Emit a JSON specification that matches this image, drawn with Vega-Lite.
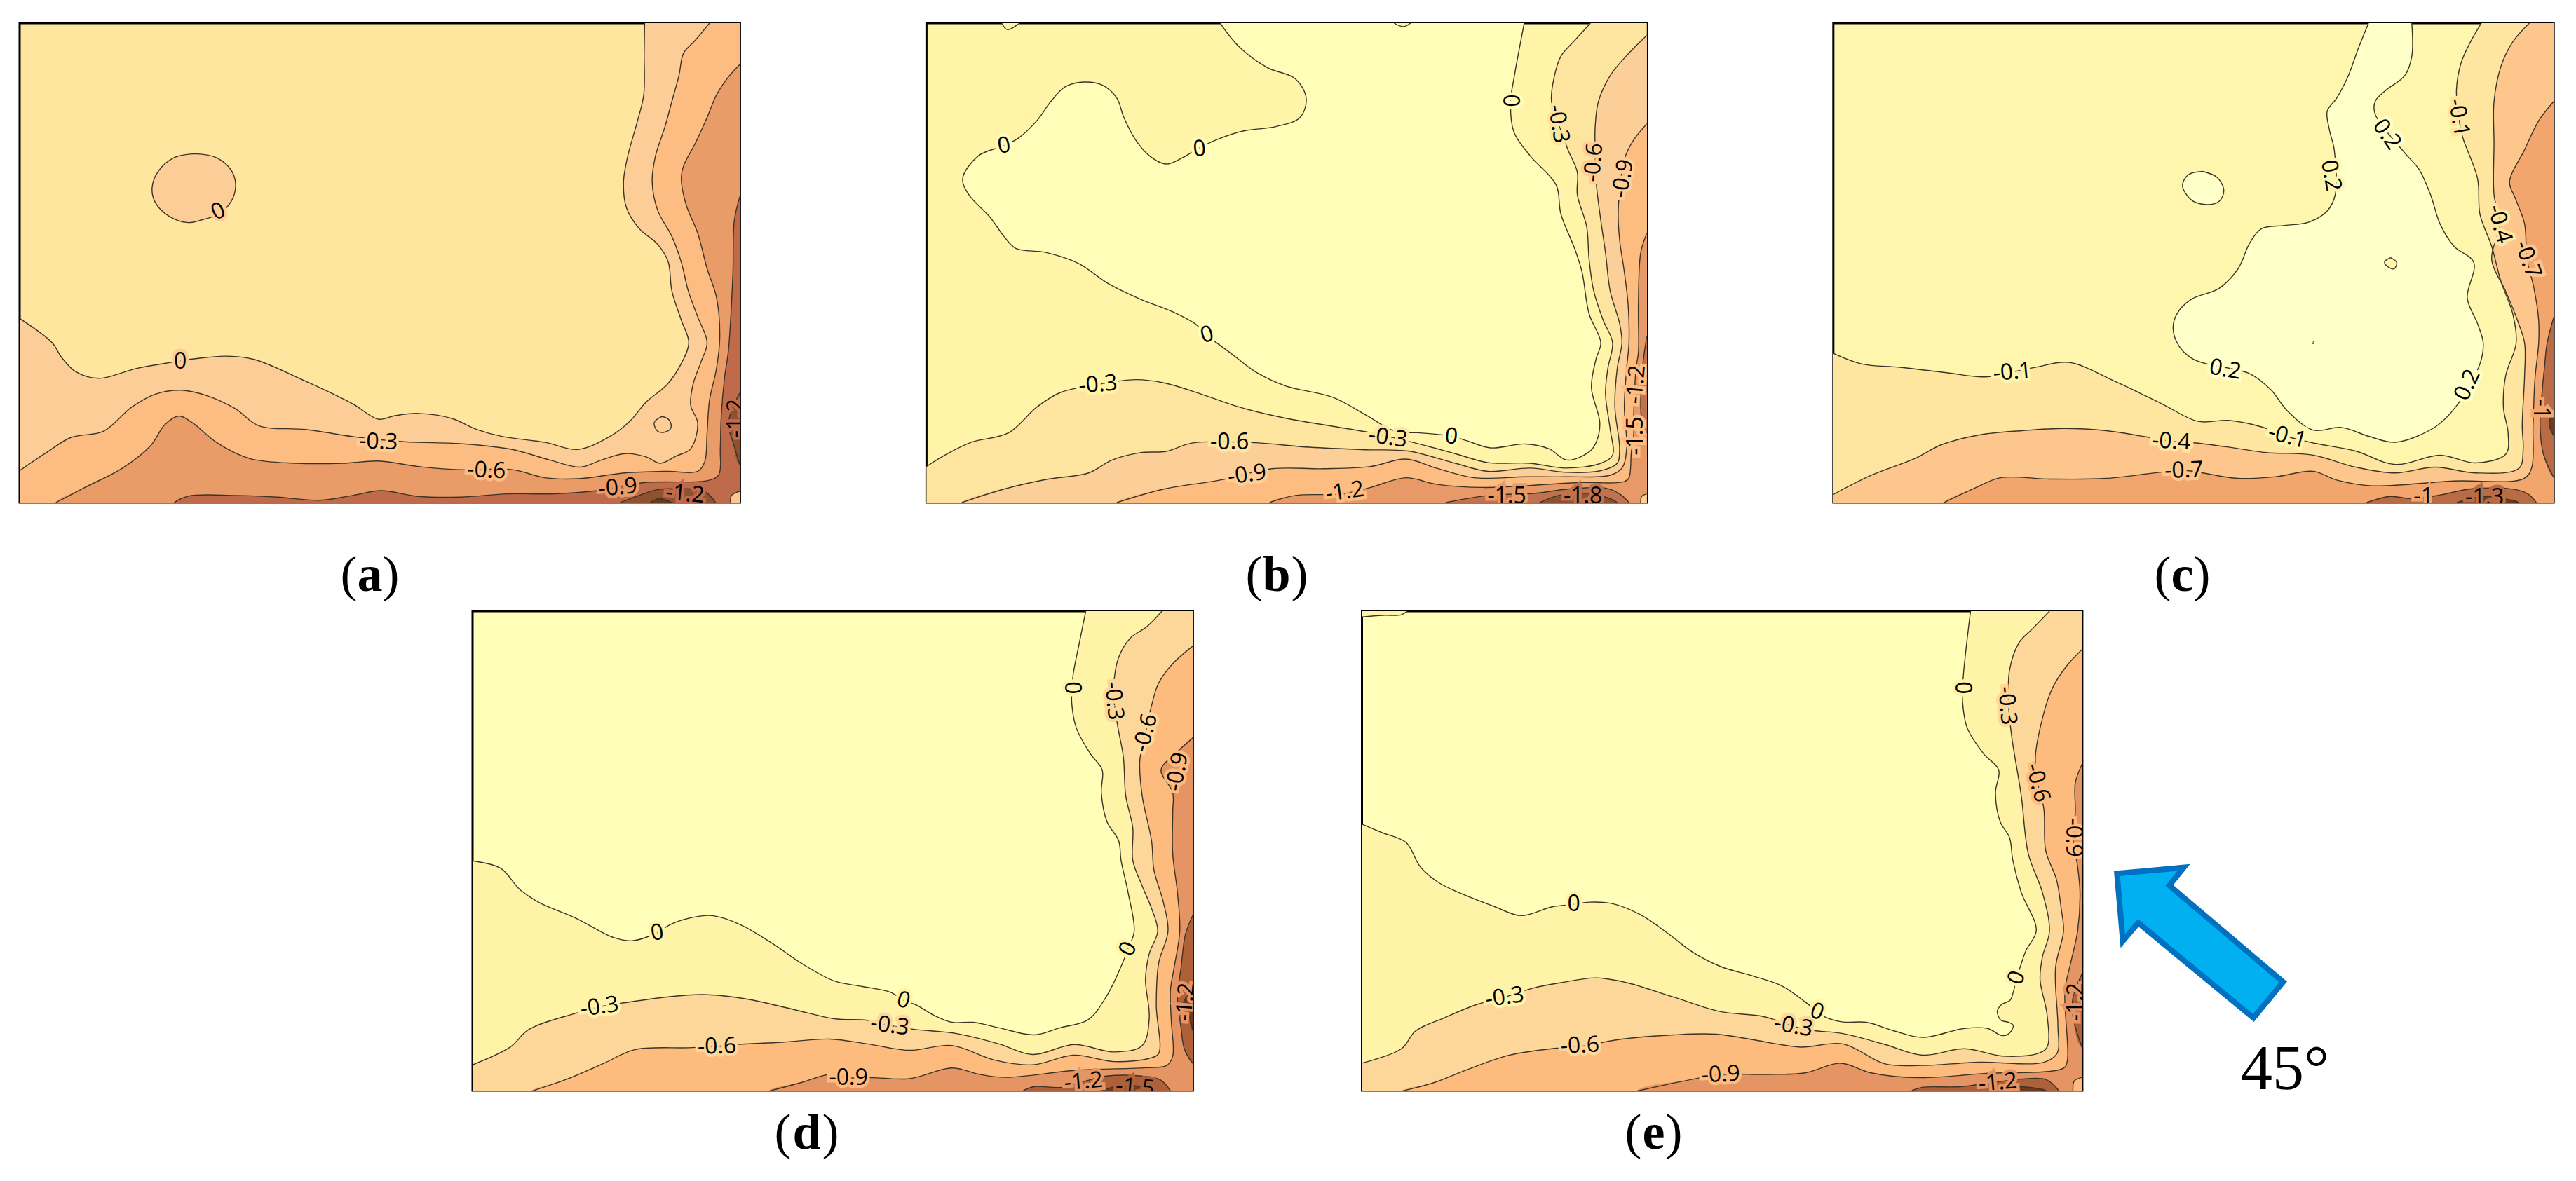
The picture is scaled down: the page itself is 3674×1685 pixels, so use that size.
{"$schema":"https://vega.github.io/schema/vega-lite/v6.json","background":"white","padding":{"left":26,"top":31,"right":0,"bottom":0},
"config":{"view":{"stroke":null},"concat":{"spacing":0}},
"resolve":{"scale":{"fill":"independent","stroke":"independent"}},
"datasets":{
"a":[
{"c":"a0","x":1342,"y":27},{"c":"a0","x":1341,"y":120},{"c":"a0","x":1340,"y":250},{"c":"a0","x":1325,"y":340},{"c":"a0","x":1306,"y":440},{"c":"a0","x":1297,"y":520},{"c":"a0","x":1303,"y":600},{"c":"a0","x":1330,"y":665},{"c":"a0","x":1370,"y":715},{"c":"a0","x":1392,"y":768},{"c":"a0","x":1400,"y":860},{"c":"a0","x":1420,"y":950},{"c":"a0","x":1436,"y":1020},{"c":"a0","x":1420,"y":1085},{"c":"a0","x":1390,"y":1150},{"c":"a0","x":1345,"y":1205},{"c":"a0","x":1310,"y":1265},{"c":"a0","x":1270,"y":1310},{"c":"a0","x":1200,"y":1352},{"c":"a0","x":1130,"y":1330},{"c":"a0","x":1040,"y":1312},{"c":"a0","x":985,"y":1290},{"c":"a0","x":930,"y":1255},{"c":"a0","x":860,"y":1240},{"c":"a0","x":810,"y":1247},{"c":"a0","x":775,"y":1258},{"c":"a0","x":720,"y":1210},{"c":"a0","x":620,"y":1140},{"c":"a0","x":510,"y":1072},{"c":"a0","x":450,"y":1062},{"c":"a0","x":385,"y":1070},{"c":"a0","x":340,"y":1080},{"c":"a0","x":260,"y":1100},{"c":"a0","x":180,"y":1131},{"c":"a0","x":130,"y":1110},{"c":"a0","x":100,"y":1065},{"c":"a0","x":80,"y":1020},{"c":"a0","x":11,"y":945},{"c":"a0","x":-20,"y":945,"k":1},{"c":"a0","x":-20,"y":1550,"k":1},{"c":"a0","x":1580,"y":1550,"k":1},{"c":"a0","x":1580,"y":-5,"k":1},{"c":"a0","x":1342,"y":-5,"k":1},
{"c":"a1","x":385,"y":433},{"c":"a1","x":430,"y":445},{"c":"a1","x":462,"y":485},{"c":"a1","x":471,"y":530},{"c":"a1","x":462,"y":580},{"c":"a1","x":435,"y":620},{"c":"a1","x":400,"y":638},{"c":"a1","x":370,"y":647},{"c":"a1","x":330,"y":628},{"c":"a1","x":300,"y":585},{"c":"a1","x":293,"y":540},{"c":"a1","x":305,"y":490},{"c":"a1","x":340,"y":445},{"c":"a1","x":385,"y":433},
{"c":"a2","x":1480,"y":27},{"c":"a2","x":1450,"y":80},{"c":"a2","x":1425,"y":120},{"c":"a2","x":1415,"y":190},{"c":"a2","x":1400,"y":270},{"c":"a2","x":1385,"y":350},{"c":"a2","x":1365,"y":440},{"c":"a2","x":1358,"y":520},{"c":"a2","x":1370,"y":610},{"c":"a2","x":1400,"y":690},{"c":"a2","x":1420,"y":770},{"c":"a2","x":1435,"y":860},{"c":"a2","x":1455,"y":940},{"c":"a2","x":1475,"y":1020},{"c":"a2","x":1462,"y":1080},{"c":"a2","x":1445,"y":1150},{"c":"a2","x":1440,"y":1215},{"c":"a2","x":1455,"y":1270},{"c":"a2","x":1440,"y":1350},{"c":"a2","x":1410,"y":1372},{"c":"a2","x":1375,"y":1395},{"c":"a2","x":1345,"y":1375},{"c":"a2","x":1300,"y":1365},{"c":"a2","x":1250,"y":1385},{"c":"a2","x":1205,"y":1407},{"c":"a2","x":1140,"y":1385},{"c":"a2","x":1060,"y":1352},{"c":"a2","x":960,"y":1335},{"c":"a2","x":830,"y":1328},{"c":"a2","x":735,"y":1315},{"c":"a2","x":620,"y":1290},{"c":"a2","x":520,"y":1278},{"c":"a2","x":470,"y":1225},{"c":"a2","x":410,"y":1185},{"c":"a2","x":355,"y":1168},{"c":"a2","x":300,"y":1180},{"c":"a2","x":250,"y":1220},{"c":"a2","x":190,"y":1295},{"c":"a2","x":120,"y":1315},{"c":"a2","x":70,"y":1360},{"c":"a2","x":11,"y":1418},{"c":"a2","x":-20,"y":1418,"k":1},{"c":"a2","x":-20,"y":1550,"k":1},{"c":"a2","x":1580,"y":1550,"k":1},{"c":"a2","x":1580,"y":-5,"k":1},{"c":"a2","x":1480,"y":-5,"k":1},
{"c":"a3","x":1365,"y":1262},{"c":"a3","x":1380,"y":1250},{"c":"a3","x":1395,"y":1262},{"c":"a3","x":1398,"y":1285},{"c":"a3","x":1385,"y":1298},{"c":"a3","x":1370,"y":1296},{"c":"a3","x":1362,"y":1272},{"c":"a3","x":1365,"y":1262},
{"c":"a4","x":1545,"y":155},{"c":"a4","x":1520,"y":195},{"c":"a4","x":1495,"y":250},{"c":"a4","x":1475,"y":320},{"c":"a4","x":1450,"y":400},{"c":"a4","x":1425,"y":470},{"c":"a4","x":1420,"y":510},{"c":"a4","x":1430,"y":590},{"c":"a4","x":1455,"y":680},{"c":"a4","x":1475,"y":790},{"c":"a4","x":1495,"y":880},{"c":"a4","x":1502,"y":1000},{"c":"a4","x":1495,"y":1100},{"c":"a4","x":1480,"y":1200},{"c":"a4","x":1475,"y":1300},{"c":"a4","x":1470,"y":1390},{"c":"a4","x":1455,"y":1420},{"c":"a4","x":1390,"y":1420},{"c":"a4","x":1300,"y":1425},{"c":"a4","x":1200,"y":1443},{"c":"a4","x":1130,"y":1440},{"c":"a4","x":1060,"y":1415},{"c":"a4","x":950,"y":1415},{"c":"a4","x":860,"y":1405},{"c":"a4","x":775,"y":1388},{"c":"a4","x":700,"y":1395},{"c":"a4","x":600,"y":1395},{"c":"a4","x":500,"y":1380},{"c":"a4","x":430,"y":1330},{"c":"a4","x":380,"y":1270},{"c":"a4","x":350,"y":1248},{"c":"a4","x":320,"y":1275},{"c":"a4","x":290,"y":1340},{"c":"a4","x":230,"y":1410},{"c":"a4","x":150,"y":1470},{"c":"a4","x":88,"y":1517},{"c":"a4","x":88,"y":1550,"k":1},{"c":"a4","x":1580,"y":1550,"k":1},{"c":"a4","x":1580,"y":155,"k":1},
{"c":"a5","x":1545,"y":565},{"c":"a5","x":1533,"y":640},{"c":"a5","x":1530,"y":800},{"c":"a5","x":1525,"y":950},{"c":"a5","x":1520,"y":1050},{"c":"a5","x":1512,"y":1130},{"c":"a5","x":1505,"y":1250},{"c":"a5","x":1503,"y":1350},{"c":"a5","x":1500,"y":1430},{"c":"a5","x":1478,"y":1448},{"c":"a5","x":1340,"y":1455},{"c":"a5","x":1240,"y":1480},{"c":"a5","x":1150,"y":1490},{"c":"a5","x":1050,"y":1490},{"c":"a5","x":950,"y":1500},{"c":"a5","x":860,"y":1498},{"c":"a5","x":780,"y":1480},{"c":"a5","x":720,"y":1495},{"c":"a5","x":650,"y":1510},{"c":"a5","x":560,"y":1500},{"c":"a5","x":470,"y":1495},{"c":"a5","x":370,"y":1497},{"c":"a5","x":340,"y":1517},{"c":"a5","x":340,"y":1550,"k":1},{"c":"a5","x":1580,"y":1550,"k":1},{"c":"a5","x":1580,"y":565,"k":1},
{"c":"a6","x":1290,"y":1517},{"c":"a6","x":1330,"y":1495},{"c":"a6","x":1369,"y":1477},{"c":"a6","x":1408,"y":1474},{"c":"a6","x":1468,"y":1481},{"c":"a6","x":1493,"y":1517},{"c":"a6","x":1493,"y":1550,"k":1},{"c":"a6","x":1290,"y":1550,"k":1},
{"c":"a7","x":1354,"y":1517},{"c":"a7","x":1373,"y":1505},{"c":"a7","x":1399,"y":1517},{"c":"a7","x":1399,"y":1550,"k":1},{"c":"a7","x":1354,"y":1550,"k":1},
{"c":"a8","x":1545,"y":1176},{"c":"a8","x":1528,"y":1226},{"c":"a8","x":1520,"y":1278},{"c":"a8","x":1530,"y":1329},{"c":"a8","x":1545,"y":1401},{"c":"a8","x":1580,"y":1401,"k":1},{"c":"a8","x":1580,"y":1176,"k":1},
{"c":"a9","x":1525,"y":1517},{"c":"a9","x":1527,"y":1495},{"c":"a9","x":1545,"y":1482},{"c":"a9","x":1580,"y":1482,"k":1},{"c":"a9","x":1580,"y":1550,"k":1},{"c":"a9","x":1525,"y":1550,"k":1}
],
"la":[{"t":"0","x":434,"y":612,"r":-25,"c":"a0"},{"t":"0","x":353,"y":1080,"r":0,"c":"a0"},{"t":"-0.3","x":775,"y":1328,"r":2,"c":"a0"},{"t":"-0.6","x":1005,"y":1417,"r":3,"c":"a2"},{"t":"-0.9","x":1285,"y":1470,"r":-5,"c":"a4"},{"t":"-1.2","x":1428,"y":1490,"r":5,"c":"a5"},{"t":"-1.2","x":1537,"y":1255,"r":-90,"c":"a5"}],
"b":[
{"c":"b0","x":640,"y":27},{"c":"b0","x":680,"y":100},{"c":"b0","x":740,"y":165},{"c":"b0","x":800,"y":200},{"c":"b0","x":823,"y":260},{"c":"b0","x":810,"y":320},{"c":"b0","x":760,"y":348},{"c":"b0","x":690,"y":362},{"c":"b0","x":640,"y":385},{"c":"b0","x":595,"y":415},{"c":"b0","x":560,"y":445},{"c":"b0","x":525,"y":465},{"c":"b0","x":490,"y":440},{"c":"b0","x":460,"y":390},{"c":"b0","x":435,"y":320},{"c":"b0","x":420,"y":260},{"c":"b0","x":390,"y":220},{"c":"b0","x":350,"y":210},{"c":"b0","x":310,"y":225},{"c":"b0","x":280,"y":270},{"c":"b0","x":250,"y":330},{"c":"b0","x":210,"y":385},{"c":"b0","x":175,"y":410},{"c":"b0","x":125,"y":440},{"c":"b0","x":92,"y":510},{"c":"b0","x":105,"y":560},{"c":"b0","x":150,"y":630},{"c":"b0","x":180,"y":690},{"c":"b0","x":205,"y":727},{"c":"b0","x":270,"y":740},{"c":"b0","x":340,"y":775},{"c":"b0","x":400,"y":835},{"c":"b0","x":470,"y":885},{"c":"b0","x":540,"y":925},{"c":"b0","x":590,"y":965},{"c":"b0","x":610,"y":995},{"c":"b0","x":660,"y":1050},{"c":"b0","x":720,"y":1115},{"c":"b0","x":780,"y":1155},{"c":"b0","x":880,"y":1190},{"c":"b0","x":950,"y":1245},{"c":"b0","x":1015,"y":1297},{"c":"b0","x":1060,"y":1300},{"c":"b0","x":1130,"y":1310},{"c":"b0","x":1165,"y":1325},{"c":"b0","x":1215,"y":1347},{"c":"b0","x":1290,"y":1335},{"c":"b0","x":1340,"y":1350},{"c":"b0","x":1378,"y":1385},{"c":"b0","x":1425,"y":1360},{"c":"b0","x":1440,"y":1330},{"c":"b0","x":1448,"y":1270},{"c":"b0","x":1430,"y":1160},{"c":"b0","x":1440,"y":1070},{"c":"b0","x":1450,"y":1020},{"c":"b0","x":1425,"y":930},{"c":"b0","x":1410,"y":800},{"c":"b0","x":1395,"y":730},{"c":"b0","x":1365,"y":620},{"c":"b0","x":1355,"y":530},{"c":"b0","x":1300,"y":440},{"c":"b0","x":1265,"y":365},{"c":"b0","x":1258,"y":270},{"c":"b0","x":1265,"y":200},{"c":"b0","x":1287,"y":27},{"c":"b0","x":1287,"y":-5,"k":1},{"c":"b0","x":640,"y":-5,"k":1},
{"c":"b1","x":175,"y":27},{"c":"b1","x":187,"y":47},{"c":"b1","x":210,"y":30},{"c":"b1","x":210,"y":-5,"k":1},{"c":"b1","x":175,"y":-5,"k":1},
{"c":"b2","x":1010,"y":27},{"c":"b2","x":1030,"y":38},{"c":"b2","x":1045,"y":27},{"c":"b2","x":1045,"y":-5,"k":1},{"c":"b2","x":1010,"y":-5,"k":1},
{"c":"b3","x":1428,"y":27},{"c":"b3","x":1395,"y":80},{"c":"b3","x":1365,"y":130},{"c":"b3","x":1350,"y":200},{"c":"b3","x":1345,"y":270},{"c":"b3","x":1360,"y":340},{"c":"b3","x":1380,"y":420},{"c":"b3","x":1400,"y":490},{"c":"b3","x":1400,"y":560},{"c":"b3","x":1420,"y":660},{"c":"b3","x":1425,"y":760},{"c":"b3","x":1435,"y":860},{"c":"b3","x":1455,"y":950},{"c":"b3","x":1475,"y":1020},{"c":"b3","x":1465,"y":1100},{"c":"b3","x":1460,"y":1180},{"c":"b3","x":1470,"y":1290},{"c":"b3","x":1475,"y":1370},{"c":"b3","x":1450,"y":1395},{"c":"b3","x":1375,"y":1410},{"c":"b3","x":1300,"y":1395},{"c":"b3","x":1210,"y":1393},{"c":"b3","x":1140,"y":1365},{"c":"b3","x":1050,"y":1330},{"c":"b3","x":960,"y":1300},{"c":"b3","x":880,"y":1280},{"c":"b3","x":780,"y":1255},{"c":"b3","x":680,"y":1220},{"c":"b3","x":600,"y":1180},{"c":"b3","x":520,"y":1145},{"c":"b3","x":460,"y":1135},{"c":"b3","x":380,"y":1150},{"c":"b3","x":300,"y":1175},{"c":"b3","x":250,"y":1220},{"c":"b3","x":190,"y":1300},{"c":"b3","x":110,"y":1330},{"c":"b3","x":60,"y":1365},{"c":"b3","x":15,"y":1405},{"c":"b3","x":-20,"y":1405,"k":1},{"c":"b3","x":-20,"y":1550,"k":1},{"c":"b3","x":1580,"y":1550,"k":1},{"c":"b3","x":1580,"y":-5,"k":1},{"c":"b3","x":1428,"y":-5,"k":1},
{"c":"b4","x":1548,"y":65},{"c":"b4","x":1510,"y":120},{"c":"b4","x":1470,"y":190},{"c":"b4","x":1445,"y":270},{"c":"b4","x":1438,"y":350},{"c":"b4","x":1438,"y":420},{"c":"b4","x":1440,"y":520},{"c":"b4","x":1450,"y":640},{"c":"b4","x":1460,"y":740},{"c":"b4","x":1470,"y":860},{"c":"b4","x":1490,"y":960},{"c":"b4","x":1495,"y":1020},{"c":"b4","x":1485,"y":1100},{"c":"b4","x":1480,"y":1220},{"c":"b4","x":1490,"y":1350},{"c":"b4","x":1485,"y":1395},{"c":"b4","x":1450,"y":1418},{"c":"b4","x":1375,"y":1423},{"c":"b4","x":1300,"y":1410},{"c":"b4","x":1210,"y":1420},{"c":"b4","x":1140,"y":1395},{"c":"b4","x":1040,"y":1357},{"c":"b4","x":950,"y":1353},{"c":"b4","x":830,"y":1345},{"c":"b4","x":700,"y":1330},{"c":"b4","x":580,"y":1332},{"c":"b4","x":525,"y":1358},{"c":"b4","x":470,"y":1362},{"c":"b4","x":410,"y":1385},{"c":"b4","x":360,"y":1425},{"c":"b4","x":270,"y":1445},{"c":"b4","x":180,"y":1475},{"c":"b4","x":90,"y":1517},{"c":"b4","x":90,"y":1550,"k":1},{"c":"b4","x":1580,"y":1550,"k":1},{"c":"b4","x":1580,"y":65,"k":1},
{"c":"b5","x":1548,"y":340},{"c":"b5","x":1520,"y":390},{"c":"b5","x":1500,"y":450},{"c":"b5","x":1490,"y":550},{"c":"b5","x":1487,"y":620},{"c":"b5","x":1490,"y":700},{"c":"b5","x":1500,"y":800},{"c":"b5","x":1508,"y":900},{"c":"b5","x":1510,"y":1020},{"c":"b5","x":1505,"y":1100},{"c":"b5","x":1500,"y":1220},{"c":"b5","x":1505,"y":1350},{"c":"b5","x":1495,"y":1410},{"c":"b5","x":1470,"y":1432},{"c":"b5","x":1375,"y":1437},{"c":"b5","x":1290,"y":1437},{"c":"b5","x":1180,"y":1440},{"c":"b5","x":1100,"y":1410},{"c":"b5","x":1035,"y":1382},{"c":"b5","x":960,"y":1405},{"c":"b5","x":860,"y":1412},{"c":"b5","x":750,"y":1412},{"c":"b5","x":640,"y":1447},{"c":"b5","x":520,"y":1475},{"c":"b5","x":420,"y":1517},{"c":"b5","x":420,"y":1550,"k":1},{"c":"b5","x":1580,"y":1550,"k":1},{"c":"b5","x":1580,"y":340,"k":1},
{"c":"b6","x":1548,"y":680},{"c":"b6","x":1535,"y":740},{"c":"b6","x":1530,"y":900},{"c":"b6","x":1530,"y":1050},{"c":"b6","x":1525,"y":1100},{"c":"b6","x":1520,"y":1250},{"c":"b6","x":1520,"y":1310},{"c":"b6","x":1515,"y":1360},{"c":"b6","x":1510,"y":1440},{"c":"b6","x":1500,"y":1452},{"c":"b6","x":1400,"y":1455},{"c":"b6","x":1200,"y":1470},{"c":"b6","x":1100,"y":1460},{"c":"b6","x":1035,"y":1440},{"c":"b6","x":960,"y":1470},{"c":"b6","x":900,"y":1490},{"c":"b6","x":800,"y":1495},{"c":"b6","x":745,"y":1517},{"c":"b6","x":745,"y":1550,"k":1},{"c":"b6","x":1580,"y":1550,"k":1},{"c":"b6","x":1580,"y":680,"k":1},
{"c":"b7","x":1120,"y":1517},{"c":"b7","x":1210,"y":1495},{"c":"b7","x":1310,"y":1488},{"c":"b7","x":1380,"y":1475},{"c":"b7","x":1460,"y":1472},{"c":"b7","x":1490,"y":1490},{"c":"b7","x":1510,"y":1517},{"c":"b7","x":1510,"y":1550,"k":1},{"c":"b7","x":1120,"y":1550,"k":1},
{"c":"b8","x":1548,"y":1000},{"c":"b8","x":1540,"y":1080},{"c":"b8","x":1535,"y":1180},{"c":"b8","x":1538,"y":1270},{"c":"b8","x":1548,"y":1300},{"c":"b8","x":1580,"y":1300,"k":1},{"c":"b8","x":1580,"y":1000,"k":1},
{"c":"b9","x":1320,"y":1517},{"c":"b9","x":1360,"y":1495},{"c":"b9","x":1420,"y":1488},{"c":"b9","x":1470,"y":1505},{"c":"b9","x":1485,"y":1517},{"c":"b9","x":1485,"y":1550,"k":1},{"c":"b9","x":1320,"y":1550,"k":1},
{"c":"bx","x":1535,"y":1517},{"c":"bx","x":1537,"y":1498},{"c":"bx","x":1548,"y":1490},{"c":"bx","x":1580,"y":1490,"k":1},{"c":"bx","x":1580,"y":1550,"k":1},{"c":"bx","x":1535,"y":1550,"k":1}
],
"lb":[{"t":"0","x":180,"y":408,"r":-10,"c":"b0"},{"t":"0","x":596,"y":418,"r":-5,"c":"b0"},{"t":"0","x":612,"y":995,"r":-15,"c":"b0"},{"t":"0","x":1257,"y":268,"r":90,"c":"b0"},{"t":"-0.3","x":1360,"y":340,"r":80,"c":"b3"},{"t":"-0.6","x":1435,"y":460,"r":-85,"c":"b4"},{"t":"-0.9","x":1497,"y":510,"r":-80,"c":"b4"},{"t":"-0.3","x":380,"y":1150,"r":-5,"c":"b1"},{"t":"-0.3","x":997,"y":1315,"r":8,"c":"b3"},{"t":"0","x":1132,"y":1312,"r":5,"c":"b0"},{"t":"-0.6","x":660,"y":1330,"r":0,"c":"b3"},{"t":"-0.9","x":697,"y":1430,"r":-8,"c":"b4"},{"t":"-1.2","x":905,"y":1483,"r":-8,"c":"b5"},{"t":"-1.5","x":1250,"y":1497,"r":0,"c":"b6"},{"t":"-1.8","x":1412,"y":1497,"r":0,"c":"b7"},{"t":"-1.2","x":1525,"y":1150,"r":-85,"c":"b5"},{"t":"-1.5","x":1525,"y":1310,"r":-90,"c":"b5"}],
"cc":[
{"c":"c0","x":1158,"y":27},{"c":"c0","x":1135,"y":110},{"c":"c0","x":1115,"y":190},{"c":"c0","x":1090,"y":260},{"c":"c0","x":1070,"y":300},{"c":"c0","x":1075,"y":360},{"c":"c0","x":1085,"y":420},{"c":"c0","x":1087,"y":560},{"c":"c0","x":1070,"y":610},{"c":"c0","x":1030,"y":645},{"c":"c0","x":980,"y":655},{"c":"c0","x":930,"y":665},{"c":"c0","x":905,"y":710},{"c":"c0","x":880,"y":790},{"c":"c0","x":840,"y":850},{"c":"c0","x":780,"y":885},{"c":"c0","x":750,"y":930},{"c":"c0","x":742,"y":975},{"c":"c0","x":755,"y":1030},{"c":"c0","x":785,"y":1070},{"c":"c0","x":815,"y":1085},{"c":"c0","x":905,"y":1115},{"c":"c0","x":950,"y":1165},{"c":"c0","x":985,"y":1230},{"c":"c0","x":1040,"y":1290},{"c":"c0","x":1100,"y":1282},{"c":"c0","x":1160,"y":1310},{"c":"c0","x":1215,"y":1328},{"c":"c0","x":1300,"y":1280},{"c":"c0","x":1345,"y":1215},{"c":"c0","x":1395,"y":1085},{"c":"c0","x":1402,"y":1020},{"c":"c0","x":1390,"y":960},{"c":"c0","x":1368,"y":880},{"c":"c0","x":1382,"y":770},{"c":"c0","x":1340,"y":720},{"c":"c0","x":1310,"y":650},{"c":"c0","x":1290,"y":560},{"c":"c0","x":1265,"y":480},{"c":"c0","x":1235,"y":430},{"c":"c0","x":1172,"y":310},{"c":"c0","x":1172,"y":270},{"c":"c0","x":1195,"y":235},{"c":"c0","x":1235,"y":190},{"c":"c0","x":1250,"y":130},{"c":"c0","x":1250,"y":27},{"c":"c0","x":1250,"y":-5,"k":1},{"c":"c0","x":1158,"y":-5,"k":1},
{"c":"c1","x":805,"y":487},{"c":"c1","x":835,"y":505},{"c":"c1","x":850,"y":545},{"c":"c1","x":840,"y":580},{"c":"c1","x":810,"y":590},{"c":"c1","x":780,"y":575},{"c":"c1","x":762,"y":530},{"c":"c1","x":775,"y":497},{"c":"c1","x":805,"y":487},
{"c":"c2","x":1205,"y":755},{"c":"c2","x":1218,"y":770},{"c":"c2","x":1212,"y":790},{"c":"c2","x":1198,"y":782},{"c":"c2","x":1192,"y":768},{"c":"c2","x":1205,"y":755},
{"c":"c3","x":1040,"y":1014},{"c":"c3","x":1042,"y":1018},{"c":"c3","x":1040,"y":1022},{"c":"c3","x":1038,"y":1018},
{"c":"c4","x":1398,"y":27},{"c":"c4","x":1375,"y":85},{"c":"c4","x":1355,"y":150},{"c":"c4","x":1345,"y":235},{"c":"c4","x":1350,"y":320},{"c":"c4","x":1358,"y":380},{"c":"c4","x":1390,"y":510},{"c":"c4","x":1395,"y":620},{"c":"c4","x":1420,"y":720},{"c":"c4","x":1440,"y":830},{"c":"c4","x":1465,"y":930},{"c":"c4","x":1472,"y":1020},{"c":"c4","x":1450,"y":1120},{"c":"c4","x":1445,"y":1220},{"c":"c4","x":1455,"y":1300},{"c":"c4","x":1450,"y":1365},{"c":"c4","x":1385,"y":1392},{"c":"c4","x":1310,"y":1368},{"c":"c4","x":1215,"y":1397},{"c":"c4","x":1130,"y":1355},{"c":"c4","x":1040,"y":1330},{"c":"c4","x":985,"y":1310},{"c":"c4","x":930,"y":1280},{"c":"c4","x":860,"y":1260},{"c":"c4","x":795,"y":1263},{"c":"c4","x":720,"y":1210},{"c":"c4","x":620,"y":1140},{"c":"c4","x":520,"y":1080},{"c":"c4","x":450,"y":1095},{"c":"c4","x":400,"y":1110},{"c":"c4","x":340,"y":1125},{"c":"c4","x":260,"y":1112},{"c":"c4","x":160,"y":1095},{"c":"c4","x":80,"y":1085},{"c":"c4","x":19,"y":1052},{"c":"c4","x":-20,"y":1052,"k":1},{"c":"c4","x":-20,"y":1550,"k":1},{"c":"c4","x":1590,"y":1550,"k":1},{"c":"c4","x":1590,"y":-5,"k":1},{"c":"c4","x":1398,"y":-5,"k":1},
{"c":"c5","x":1500,"y":27},{"c":"c5","x":1465,"y":85},{"c":"c5","x":1440,"y":160},{"c":"c5","x":1425,"y":270},{"c":"c5","x":1425,"y":400},{"c":"c5","x":1425,"y":560},{"c":"c5","x":1437,"y":650},{"c":"c5","x":1420,"y":760},{"c":"c5","x":1450,"y":860},{"c":"c5","x":1475,"y":950},{"c":"c5","x":1490,"y":1020},{"c":"c5","x":1490,"y":1120},{"c":"c5","x":1485,"y":1278},{"c":"c5","x":1487,"y":1350},{"c":"c5","x":1478,"y":1409},{"c":"c5","x":1384,"y":1423},{"c":"c5","x":1300,"y":1405},{"c":"c5","x":1215,"y":1423},{"c":"c5","x":1130,"y":1405},{"c":"c5","x":1040,"y":1368},{"c":"c5","x":940,"y":1360},{"c":"c5","x":870,"y":1345},{"c":"c5","x":790,"y":1330},{"c":"c5","x":738,"y":1325},{"c":"c5","x":680,"y":1310},{"c":"c5","x":600,"y":1292},{"c":"c5","x":510,"y":1285},{"c":"c5","x":420,"y":1292},{"c":"c5","x":330,"y":1305},{"c":"c5","x":250,"y":1335},{"c":"c5","x":190,"y":1380},{"c":"c5","x":100,"y":1430},{"c":"c5","x":19,"y":1490},{"c":"c5","x":-20,"y":1490,"k":1},{"c":"c5","x":-20,"y":1550,"k":1},{"c":"c5","x":1590,"y":1550,"k":1},{"c":"c5","x":1590,"y":-5,"k":1},{"c":"c5","x":1500,"y":-5,"k":1},
{"c":"c6","x":1552,"y":270},{"c":"c6","x":1520,"y":330},{"c":"c6","x":1490,"y":420},{"c":"c6","x":1458,"y":520},{"c":"c6","x":1470,"y":570},{"c":"c6","x":1490,"y":650},{"c":"c6","x":1495,"y":760},{"c":"c6","x":1510,"y":850},{"c":"c6","x":1520,"y":950},{"c":"c6","x":1520,"y":1020},{"c":"c6","x":1512,"y":1133},{"c":"c6","x":1508,"y":1278},{"c":"c6","x":1505,"y":1408},{"c":"c6","x":1488,"y":1441},{"c":"c6","x":1339,"y":1448},{"c":"c6","x":1165,"y":1463},{"c":"c6","x":1090,"y":1445},{"c":"c6","x":1040,"y":1418},{"c":"c6","x":960,"y":1435},{"c":"c6","x":880,"y":1440},{"c":"c6","x":765,"y":1415},{"c":"c6","x":720,"y":1420},{"c":"c6","x":600,"y":1440},{"c":"c6","x":480,"y":1442},{"c":"c6","x":375,"y":1438},{"c":"c6","x":320,"y":1470},{"c":"c6","x":252,"y":1517},{"c":"c6","x":252,"y":1550,"k":1},{"c":"c6","x":1590,"y":1550,"k":1},{"c":"c6","x":1590,"y":270,"k":1},
{"c":"c7","x":1552,"y":940},{"c":"c7","x":1538,"y":1020},{"c":"c7","x":1532,"y":1100},{"c":"c7","x":1527,"y":1176},{"c":"c7","x":1523,"y":1278},{"c":"c7","x":1530,"y":1365},{"c":"c7","x":1552,"y":1437},{"c":"c7","x":1590,"y":1437,"k":1},{"c":"c7","x":1590,"y":940,"k":1},
{"c":"c8","x":1154,"y":1515},{"c":"c8","x":1204,"y":1496},{"c":"c8","x":1249,"y":1503},{"c":"c8","x":1309,"y":1492},{"c":"c8","x":1378,"y":1472},{"c":"c8","x":1468,"y":1474},{"c":"c8","x":1497,"y":1488},{"c":"c8","x":1515,"y":1515},{"c":"c8","x":1515,"y":1550,"k":1},{"c":"c8","x":1154,"y":1550,"k":1},
{"c":"c9","x":1346,"y":1515},{"c":"c9","x":1373,"y":1503},{"c":"c9","x":1408,"y":1496},{"c":"c9","x":1448,"y":1503},{"c":"c9","x":1478,"y":1515},{"c":"c9","x":1478,"y":1550,"k":1},{"c":"c9","x":1346,"y":1550,"k":1},
{"c":"cx","x":1552,"y":1235},{"c":"cx","x":1542,"y":1268},{"c":"cx","x":1552,"y":1307},{"c":"cx","x":1590,"y":1307,"k":1},{"c":"cx","x":1590,"y":1235,"k":1}
],
"lc":[{"t":"-0.1","x":400,"y":1110,"r":-5,"c":"c2"},{"t":"0.2","x":1078,"y":500,"r":80,"c":"c2"},{"t":"0.2","x":1197,"y":372,"r":55,"c":"c0"},{"t":"0.2","x":853,"y":1102,"r":10,"c":"c0"},{"t":"0.2","x":1368,"y":1150,"r":-65,"c":"c0"},{"t":"-0.1","x":1350,"y":320,"r":80,"c":"c4"},{"t":"-0.4","x":1437,"y":650,"r":75,"c":"c4"},{"t":"-0.7","x":1497,"y":760,"r":70,"c":"c5"},{"t":"-0.1","x":985,"y":1310,"r":15,"c":"c2"},{"t":"-0.4","x":738,"y":1325,"r":3,"c":"c4"},{"t":"-0.7","x":765,"y":1415,"r":-2,"c":"c5"},{"t":"-1","x":1525,"y":1225,"r":90,"c":"c6"},{"t":"-1","x":1275,"y":1497,"r":0,"c":"c6"},{"t":"-1.3","x":1405,"y":1500,"r":0,"c":"c8"}],
"d":[
{"c":"d0","x":1325,"y":27},{"c":"d0","x":1312,"y":120},{"c":"d0","x":1298,"y":225},{"c":"d0","x":1296,"y":265},{"c":"d0","x":1295,"y":310},{"c":"d0","x":1305,"y":390},{"c":"d0","x":1335,"y":470},{"c":"d0","x":1360,"y":520},{"c":"d0","x":1358,"y":590},{"c":"d0","x":1370,"y":680},{"c":"d0","x":1395,"y":740},{"c":"d0","x":1400,"y":800},{"c":"d0","x":1415,"y":900},{"c":"d0","x":1428,"y":1020},{"c":"d0","x":1415,"y":1075},{"c":"d0","x":1400,"y":1130},{"c":"d0","x":1370,"y":1220},{"c":"d0","x":1330,"y":1295},{"c":"d0","x":1270,"y":1320},{"c":"d0","x":1215,"y":1342},{"c":"d0","x":1140,"y":1320},{"c":"d0","x":1085,"y":1303},{"c":"d0","x":1040,"y":1303},{"c":"d0","x":1000,"y":1280},{"c":"d0","x":965,"y":1250},{"c":"d0","x":937,"y":1235},{"c":"d0","x":910,"y":1210},{"c":"d0","x":850,"y":1192},{"c":"d0","x":790,"y":1175},{"c":"d0","x":720,"y":1120},{"c":"d0","x":660,"y":1060},{"c":"d0","x":590,"y":1000},{"c":"d0","x":530,"y":972},{"c":"d0","x":480,"y":980},{"c":"d0","x":440,"y":1000},{"c":"d0","x":413,"y":1025},{"c":"d0","x":360,"y":1050},{"c":"d0","x":320,"y":1040},{"c":"d0","x":240,"y":980},{"c":"d0","x":160,"y":930},{"c":"d0","x":120,"y":890},{"c":"d0","x":80,"y":825},{"c":"d0","x":20,"y":802},{"c":"d0","x":-20,"y":802,"k":1},{"c":"d0","x":-20,"y":1550,"k":1},{"c":"d0","x":1590,"y":1550,"k":1},{"c":"d0","x":1590,"y":-5,"k":1},{"c":"d0","x":1325,"y":-5,"k":1},
{"c":"d1","x":1487,"y":27},{"c":"d1","x":1455,"y":75},{"c":"d1","x":1420,"y":110},{"c":"d1","x":1395,"y":170},{"c":"d1","x":1385,"y":245},{"c":"d1","x":1385,"y":305},{"c":"d1","x":1393,"y":385},{"c":"d1","x":1405,"y":480},{"c":"d1","x":1410,"y":600},{"c":"d1","x":1425,"y":700},{"c":"d1","x":1425,"y":800},{"c":"d1","x":1445,"y":880},{"c":"d1","x":1465,"y":950},{"c":"d1","x":1478,"y":1020},{"c":"d1","x":1460,"y":1090},{"c":"d1","x":1452,"y":1170},{"c":"d1","x":1460,"y":1290},{"c":"d1","x":1445,"y":1375},{"c":"d1","x":1385,"y":1395},{"c":"d1","x":1300,"y":1372},{"c":"d1","x":1212,"y":1403},{"c":"d1","x":1140,"y":1370},{"c":"d1","x":1050,"y":1338},{"c":"d1","x":960,"y":1325},{"c":"d1","x":908,"y":1313},{"c":"d1","x":860,"y":1297},{"c":"d1","x":790,"y":1292},{"c":"d1","x":700,"y":1262},{"c":"d1","x":600,"y":1230},{"c":"d1","x":510,"y":1217},{"c":"d1","x":430,"y":1225},{"c":"d1","x":345,"y":1242},{"c":"d1","x":290,"y":1255},{"c":"d1","x":240,"y":1275},{"c":"d1","x":140,"y":1325},{"c":"d1","x":100,"y":1380},{"c":"d1","x":20,"y":1435},{"c":"d1","x":-20,"y":1435,"k":1},{"c":"d1","x":-20,"y":1550,"k":1},{"c":"d1","x":1590,"y":1550,"k":1},{"c":"d1","x":1590,"y":-5,"k":1},{"c":"d1","x":1487,"y":-5,"k":1},
{"c":"d2","x":1553,"y":135},{"c":"d2","x":1510,"y":190},{"c":"d2","x":1480,"y":250},{"c":"d2","x":1465,"y":320},{"c":"d2","x":1452,"y":405},{"c":"d2","x":1440,"y":490},{"c":"d2","x":1445,"y":600},{"c":"d2","x":1465,"y":740},{"c":"d2","x":1470,"y":830},{"c":"d2","x":1490,"y":930},{"c":"d2","x":1500,"y":1020},{"c":"d2","x":1480,"y":1120},{"c":"d2","x":1475,"y":1250},{"c":"d2","x":1480,"y":1400},{"c":"d2","x":1460,"y":1415},{"c":"d2","x":1385,"y":1425},{"c":"d2","x":1300,"y":1405},{"c":"d2","x":1212,"y":1435},{"c":"d2","x":1130,"y":1420},{"c":"d2","x":1040,"y":1375},{"c":"d2","x":950,"y":1390},{"c":"d2","x":860,"y":1370},{"c":"d2","x":780,"y":1355},{"c":"d2","x":680,"y":1365},{"c":"d2","x":580,"y":1372},{"c":"d2","x":540,"y":1378},{"c":"d2","x":480,"y":1382},{"c":"d2","x":365,"y":1388},{"c":"d2","x":300,"y":1430},{"c":"d2","x":220,"y":1480},{"c":"d2","x":145,"y":1517},{"c":"d2","x":145,"y":1550,"k":1},{"c":"d2","x":1590,"y":1550,"k":1},{"c":"d2","x":1590,"y":135,"k":1},
{"c":"d3","x":1553,"y":420},{"c":"d3","x":1515,"y":470},{"c":"d3","x":1485,"y":520},{"c":"d3","x":1510,"y":590},{"c":"d3","x":1510,"y":650},{"c":"d3","x":1510,"y":780},{"c":"d3","x":1520,"y":900},{"c":"d3","x":1525,"y":1020},{"c":"d3","x":1513,"y":1133},{"c":"d3","x":1505,"y":1205},{"c":"d3","x":1507,"y":1300},{"c":"d3","x":1510,"y":1408},{"c":"d3","x":1497,"y":1437},{"c":"d3","x":1453,"y":1444},{"c":"d3","x":1304,"y":1452},{"c":"d3","x":1154,"y":1474},{"c":"d3","x":1100,"y":1465},{"c":"d3","x":1040,"y":1445},{"c":"d3","x":950,"y":1478},{"c":"d3","x":870,"y":1475},{"c":"d3","x":820,"y":1475},{"c":"d3","x":780,"y":1465},{"c":"d3","x":720,"y":1490},{"c":"d3","x":650,"y":1517},{"c":"d3","x":650,"y":1550,"k":1},{"c":"d3","x":1590,"y":1550,"k":1},{"c":"d3","x":1590,"y":420,"k":1},
{"c":"d4","x":1553,"y":970},{"c":"d4","x":1537,"y":1030},{"c":"d4","x":1528,"y":1130},{"c":"d4","x":1520,"y":1230},{"c":"d4","x":1527,"y":1313},{"c":"d4","x":1535,"y":1387},{"c":"d4","x":1553,"y":1431},{"c":"d4","x":1590,"y":1431,"k":1},{"c":"d4","x":1590,"y":970,"k":1},
{"c":"d5","x":1192,"y":1515},{"c":"d5","x":1214,"y":1503},{"c":"d5","x":1274,"y":1505},{"c":"d5","x":1320,"y":1487},{"c":"d5","x":1369,"y":1470},{"c":"d5","x":1444,"y":1470},{"c":"d5","x":1483,"y":1481},{"c":"d5","x":1505,"y":1515},{"c":"d5","x":1505,"y":1550,"k":1},{"c":"d5","x":1192,"y":1550,"k":1},
{"c":"d6","x":1359,"y":1515},{"c":"d6","x":1403,"y":1498},{"c":"d6","x":1444,"y":1503},{"c":"d6","x":1473,"y":1515},{"c":"d6","x":1473,"y":1550,"k":1},{"c":"d6","x":1359,"y":1550,"k":1},
{"c":"d7","x":1553,"y":1205},{"c":"d7","x":1533,"y":1241},{"c":"d7","x":1543,"y":1270},{"c":"d7","x":1553,"y":1329},{"c":"d7","x":1590,"y":1329,"k":1},{"c":"d7","x":1590,"y":1205,"k":1}
],
"ld":[{"t":"0","x":1296,"y":265,"r":90,"c":"d0"},{"t":"-0.3","x":1385,"y":305,"r":85,"c":"d1"},{"t":"-0.6","x":1452,"y":405,"r":-75,"c":"d1"},{"t":"-0.9","x":1520,"y":525,"r":-80,"c":"d2"},{"t":"0","x":413,"y":1025,"r":-10,"c":"d0"},{"t":"-0.3","x":290,"y":1255,"r":-8,"c":"d0"},{"t":"-0.6","x":540,"y":1378,"r":-2,"c":"d1"},{"t":"0","x":937,"y":1235,"r":15,"c":"d0"},{"t":"-0.3","x":908,"y":1313,"r":8,"c":"d1"},{"t":"0","x":1415,"y":1075,"r":-65,"c":"d0"},{"t":"-0.9","x":820,"y":1475,"r":0,"c":"d2"},{"t":"-1.2","x":1320,"y":1487,"r":-5,"c":"d3"},{"t":"-1.5","x":1430,"y":1505,"r":5,"c":"d5"},{"t":"-1.2","x":1537,"y":1240,"r":-85,"c":"d3"}],
"e":[
{"c":"e0","x":1312,"y":27},{"c":"e0","x":1305,"y":110},{"c":"e0","x":1297,"y":220},{"c":"e0","x":1295,"y":265},{"c":"e0","x":1295,"y":310},{"c":"e0","x":1305,"y":390},{"c":"e0","x":1340,"y":470},{"c":"e0","x":1372,"y":520},{"c":"e0","x":1365,"y":590},{"c":"e0","x":1375,"y":680},{"c":"e0","x":1395,"y":730},{"c":"e0","x":1402,"y":800},{"c":"e0","x":1420,"y":900},{"c":"e0","x":1452,"y":1018},{"c":"e0","x":1430,"y":1080},{"c":"e0","x":1418,"y":1130},{"c":"e0","x":1410,"y":1165},{"c":"e0","x":1403,"y":1209},{"c":"e0","x":1396,"y":1235},{"c":"e0","x":1378,"y":1248},{"c":"e0","x":1369,"y":1268},{"c":"e0","x":1376,"y":1296},{"c":"e0","x":1393,"y":1303},{"c":"e0","x":1403,"y":1313},{"c":"e0","x":1393,"y":1339},{"c":"e0","x":1378,"y":1344},{"c":"e0","x":1348,"y":1322},{"c":"e0","x":1299,"y":1322},{"c":"e0","x":1209,"y":1350},{"c":"e0","x":1150,"y":1330},{"c":"e0","x":1090,"y":1303},{"c":"e0","x":1040,"y":1302},{"c":"e0","x":1000,"y":1285},{"c":"e0","x":985,"y":1270},{"c":"e0","x":960,"y":1240},{"c":"e0","x":910,"y":1190},{"c":"e0","x":850,"y":1160},{"c":"e0","x":780,"y":1130},{"c":"e0","x":720,"y":1085},{"c":"e0","x":670,"y":1030},{"c":"e0","x":610,"y":970},{"c":"e0","x":550,"y":935},{"c":"e0","x":500,"y":930},{"c":"e0","x":467,"y":937},{"c":"e0","x":420,"y":945},{"c":"e0","x":355,"y":972},{"c":"e0","x":300,"y":945},{"c":"e0","x":180,"y":870},{"c":"e0","x":140,"y":820},{"c":"e0","x":110,"y":745},{"c":"e0","x":60,"y":715},{"c":"e0","x":16,"y":688},{"c":"e0","x":-20,"y":688,"k":1},{"c":"e0","x":-20,"y":1550,"k":1},{"c":"e0","x":1590,"y":1550,"k":1},{"c":"e0","x":1590,"y":-5,"k":1},{"c":"e0","x":1312,"y":-5,"k":1},
{"c":"e1","x":16,"y":45},{"c":"e1","x":60,"y":40},{"c":"e1","x":100,"y":38},{"c":"e1","x":112,"y":27},{"c":"e1","x":112,"y":-5,"k":1},{"c":"e1","x":-20,"y":-5,"k":1},{"c":"e1","x":-20,"y":45,"k":1},
{"c":"e2","x":1480,"y":27},{"c":"e2","x":1445,"y":80},{"c":"e2","x":1415,"y":125},{"c":"e2","x":1395,"y":210},{"c":"e2","x":1393,"y":320},{"c":"e2","x":1400,"y":420},{"c":"e2","x":1420,"y":600},{"c":"e2","x":1435,"y":780},{"c":"e2","x":1465,"y":900},{"c":"e2","x":1480,"y":1020},{"c":"e2","x":1465,"y":1100},{"c":"e2","x":1460,"y":1170},{"c":"e2","x":1475,"y":1280},{"c":"e2","x":1475,"y":1380},{"c":"e2","x":1455,"y":1400},{"c":"e2","x":1380,"y":1408},{"c":"e2","x":1300,"y":1385},{"c":"e2","x":1210,"y":1405},{"c":"e2","x":1130,"y":1372},{"c":"e2","x":1040,"y":1338},{"c":"e2","x":975,"y":1328},{"c":"e2","x":935,"y":1315},{"c":"e2","x":870,"y":1285},{"c":"e2","x":780,"y":1270},{"c":"e2","x":680,"y":1225},{"c":"e2","x":580,"y":1180},{"c":"e2","x":515,"y":1165},{"c":"e2","x":440,"y":1180},{"c":"e2","x":380,"y":1197},{"c":"e2","x":320,"y":1225},{"c":"e2","x":260,"y":1248},{"c":"e2","x":190,"y":1290},{"c":"e2","x":130,"y":1330},{"c":"e2","x":100,"y":1385},{"c":"e2","x":16,"y":1430},{"c":"e2","x":-20,"y":1430,"k":1},{"c":"e2","x":-20,"y":1550,"k":1},{"c":"e2","x":1590,"y":1550,"k":1},{"c":"e2","x":1590,"y":-5,"k":1},{"c":"e2","x":1480,"y":-5,"k":1},
{"c":"e3","x":1550,"y":145},{"c":"e3","x":1515,"y":200},{"c":"e3","x":1485,"y":270},{"c":"e3","x":1465,"y":360},{"c":"e3","x":1450,"y":480},{"c":"e3","x":1455,"y":560},{"c":"e3","x":1468,"y":640},{"c":"e3","x":1472,"y":770},{"c":"e3","x":1495,"y":860},{"c":"e3","x":1505,"y":950},{"c":"e3","x":1510,"y":1020},{"c":"e3","x":1493,"y":1133},{"c":"e3","x":1498,"y":1313},{"c":"e3","x":1496,"y":1400},{"c":"e3","x":1468,"y":1427},{"c":"e3","x":1329,"y":1427},{"c":"e3","x":1209,"y":1437},{"c":"e3","x":1130,"y":1432},{"c":"e3","x":1040,"y":1370},{"c":"e3","x":950,"y":1380},{"c":"e3","x":860,"y":1360},{"c":"e3","x":770,"y":1340},{"c":"e3","x":680,"y":1342},{"c":"e3","x":570,"y":1355},{"c":"e3","x":480,"y":1378},{"c":"e3","x":420,"y":1385},{"c":"e3","x":330,"y":1405},{"c":"e3","x":240,"y":1450},{"c":"e3","x":170,"y":1490},{"c":"e3","x":100,"y":1517},{"c":"e3","x":100,"y":1550,"k":1},{"c":"e3","x":1590,"y":1550,"k":1},{"c":"e3","x":1590,"y":145,"k":1},
{"c":"e4","x":1550,"y":500},{"c":"e4","x":1535,"y":560},{"c":"e4","x":1535,"y":650},{"c":"e4","x":1530,"y":730},{"c":"e4","x":1540,"y":820},{"c":"e4","x":1545,"y":900},{"c":"e4","x":1540,"y":1020},{"c":"e4","x":1525,"y":1120},{"c":"e4","x":1513,"y":1205},{"c":"e4","x":1518,"y":1423},{"c":"e4","x":1510,"y":1445},{"c":"e4","x":1340,"y":1462},{"c":"e4","x":1200,"y":1475},{"c":"e4","x":1100,"y":1460},{"c":"e4","x":1035,"y":1430},{"c":"e4","x":960,"y":1460},{"c":"e4","x":880,"y":1465},{"c":"e4","x":780,"y":1465},{"c":"e4","x":720,"y":1480},{"c":"e4","x":600,"y":1517},{"c":"e4","x":600,"y":1550,"k":1},{"c":"e4","x":1590,"y":1550,"k":1},{"c":"e4","x":1590,"y":500,"k":1},
{"c":"e5","x":1550,"y":1150},{"c":"e5","x":1530,"y":1226},{"c":"e5","x":1530,"y":1285},{"c":"e5","x":1550,"y":1383},{"c":"e5","x":1590,"y":1383,"k":1},{"c":"e5","x":1590,"y":1150,"k":1},
{"c":"e6","x":1187,"y":1515},{"c":"e6","x":1209,"y":1505},{"c":"e6","x":1289,"y":1503},{"c":"e6","x":1360,"y":1490},{"c":"e6","x":1423,"y":1479},{"c":"e6","x":1473,"y":1481},{"c":"e6","x":1500,"y":1515},{"c":"e6","x":1500,"y":1550,"k":1},{"c":"e6","x":1187,"y":1550,"k":1},
{"c":"e7","x":1363,"y":1515},{"c":"e7","x":1388,"y":1505},{"c":"e7","x":1438,"y":1505},{"c":"e7","x":1473,"y":1515},{"c":"e7","x":1473,"y":1550,"k":1},{"c":"e7","x":1363,"y":1550,"k":1},
{"c":"e8","x":1530,"y":1515},{"c":"e8","x":1533,"y":1485},{"c":"e8","x":1550,"y":1474},{"c":"e8","x":1590,"y":1474,"k":1},{"c":"e8","x":1590,"y":1550,"k":1},{"c":"e8","x":1530,"y":1550,"k":1}
],
"le":[{"t":"0","x":1295,"y":265,"r":90,"c":"e0"},{"t":"-0.3","x":1390,"y":320,"r":85,"c":"e2"},{"t":"-0.6","x":1455,"y":560,"r":75,"c":"e3"},{"t":"-0.9","x":1530,"y":730,"r":90,"c":"e3"},{"t":"0","x":467,"y":937,"r":0,"c":"e0"},{"t":"-0.3","x":320,"y":1225,"r":-8,"c":"e0"},{"t":"-0.6","x":480,"y":1375,"r":-3,"c":"e2"},{"t":"-0.9","x":780,"y":1465,"r":-3,"c":"e3"},{"t":"0","x":985,"y":1270,"r":20,"c":"e0"},{"t":"-0.3","x":935,"y":1315,"r":10,"c":"e2"},{"t":"0","x":1410,"y":1165,"r":-70,"c":"e0"},{"t":"-1.2","x":1370,"y":1490,"r":-5,"c":"e4"},{"t":"-1.2","x":1537,"y":1240,"r":-90,"c":"e4"}]
},
"vconcat":[
{"resolve":{"scale":{"fill":"independent","stroke":"independent"}},"hconcat":[
{"width":1027.4,"height":684,"view":{"fill":"#fee69e","stroke":"black","strokeWidth":3},"encoding":{"x":{"field":"x","type":"quantitative","scale":{"domain":[11,1545],"nice":false,"zero":false},"axis":null},"y":{"field":"y","type":"quantitative","scale":{"domain":[1517,27],"nice":false,"zero":false},"axis":null}},"layer":[
{"data":{"name":"a"},"mark":{"type":"line","order":false,"clip":true,"interpolate":"catmull-rom","strokeOpacity":0},"encoding":{"fill":{"field":"c","type":"nominal","legend":null,"scale":{"domain":["a0","a1","a2","a3","a4","a5","a6","a7","a8","a9"],"range":["#fdcd97","#fdcd97","#fdbd82","#fdcd97","#e99c68","#c06a4c","#8f5230","#6b3a1c","#8f5230","#fdc88e"]}}}},
{"data":{"name":"a"},"transform":[{"filter":"!datum.k"}],"mark":{"type":"line","order":false,"clip":true,"interpolate":"catmull-rom","stroke":"#3b3426","strokeWidth":1.4},"encoding":{"detail":{"field":"c"}}},
{"data":{"name":"la"},"mark":{"type":"text","clip":true,"font":"Open Sans","fontSize":32,"strokeWidth":9},"encoding":{"text":{"field":"t"},"angle":{"field":"r","type":"quantitative","scale":null},"stroke":{"field":"c","type":"nominal","legend":null,"scale":{"domain":["a0","a1","a2","a3","a4","a5","a6","a7","a8","a9"],"range":["#fdcd97","#fdcd97","#fdbd82","#fdcd97","#e99c68","#c06a4c","#8f5230","#6b3a1c","#8f5230","#fdc88e"]}}}},
{"data":{"name":"la"},"mark":{"type":"text","clip":true,"font":"Open Sans","fontSize":32,"fill":"black"},"encoding":{"text":{"field":"t"},"angle":{"field":"r","type":"quantitative","scale":null}}}
]},
{"width":1027.4,"height":684,"view":{"fill":"#fff4a8","stroke":"black","strokeWidth":3},"encoding":{"x":{"field":"x","type":"quantitative","scale":{"domain":[15,1548],"nice":false,"zero":false},"axis":null},"y":{"field":"y","type":"quantitative","scale":{"domain":[1517,27],"nice":false,"zero":false},"axis":null}},"layer":[
{"data":{"name":"b"},"mark":{"type":"line","order":false,"clip":true,"interpolate":"catmull-rom","strokeOpacity":0},"encoding":{"fill":{"field":"c","type":"nominal","legend":null,"scale":{"domain":["b0","b1","b2","b3","b4","b5","b6","b7","b8","b9","bx"],"range":["#fffdb8","#fff4a8","#fff4a8","#fde5a0","#fdcf98","#fdbc80","#e79a68","#c0714d","#c0714d","#8e5030","#fdcf98"]}}}},
{"data":{"name":"b"},"transform":[{"filter":"!datum.k"}],"mark":{"type":"line","order":false,"clip":true,"interpolate":"catmull-rom","stroke":"#3b3426","strokeWidth":1.4},"encoding":{"detail":{"field":"c"}}},
{"data":{"name":"lb"},"mark":{"type":"text","clip":true,"font":"Open Sans","fontSize":32,"strokeWidth":9},"encoding":{"text":{"field":"t"},"angle":{"field":"r","type":"quantitative","scale":null},"stroke":{"field":"c","type":"nominal","legend":null,"scale":{"domain":["b0","b1","b2","b3","b4","b5","b6","b7","b8","b9","bx"],"range":["#fffdb8","#fff4a8","#fff4a8","#fde5a0","#fdcf98","#fdbc80","#e79a68","#c0714d","#c0714d","#8e5030","#fdcf98"]}}}},
{"data":{"name":"lb"},"mark":{"type":"text","clip":true,"font":"Open Sans","fontSize":32,"fill":"black"},"encoding":{"text":{"field":"t"},"angle":{"field":"r","type":"quantitative","scale":null}}}
]},
{"width":1027.4,"height":684,"view":{"fill":"#fff6ae","stroke":"black","strokeWidth":3},"encoding":{"x":{"field":"x","type":"quantitative","scale":{"domain":[19,1552],"nice":false,"zero":false},"axis":null},"y":{"field":"y","type":"quantitative","scale":{"domain":[1515,27],"nice":false,"zero":false},"axis":null}},"layer":[
{"data":{"name":"cc"},"mark":{"type":"line","order":false,"clip":true,"interpolate":"catmull-rom","strokeOpacity":0},"encoding":{"fill":{"field":"c","type":"nominal","legend":null,"scale":{"domain":["c0","c1","c2","c3","c4","c5","c6","c7","c8","c9","cx"],"range":["#ffffc8","#ffffc8","#fff6ae","#ffffc8","#fee5a0","#fdc68c","#f3a56e","#b96b45","#b96b45","#6e3c1a","#6e3c1a"]}}}},
{"data":{"name":"cc"},"transform":[{"filter":"!datum.k"}],"mark":{"type":"line","order":false,"clip":true,"interpolate":"catmull-rom","stroke":"#3b3426","strokeWidth":1.4},"encoding":{"detail":{"field":"c"}}},
{"data":{"name":"lc"},"mark":{"type":"text","clip":true,"font":"Open Sans","fontSize":32,"strokeWidth":9},"encoding":{"text":{"field":"t"},"angle":{"field":"r","type":"quantitative","scale":null},"stroke":{"field":"c","type":"nominal","legend":null,"scale":{"domain":["c0","c1","c2","c3","c4","c5","c6","c7","c8","c9","cx"],"range":["#ffffc8","#ffffc8","#fff6ae","#ffffc8","#fee5a0","#fdc68c","#f3a56e","#b96b45","#b96b45","#6e3c1a","#6e3c1a"]}}}},
{"data":{"name":"lc"},"mark":{"type":"text","clip":true,"font":"Open Sans","fontSize":32,"fill":"black"},"encoding":{"text":{"field":"t"},"angle":{"field":"r","type":"quantitative","scale":null}}}
]}
],"spacing":262.4},
{"width":3640,"height":151,"data":{"values":[{"t":"(","x":497,"y":840},{"t":")","x":557,"y":840},{"t":"(","x":1788,"y":840},{"t":")","x":1853,"y":840},{"t":"(","x":3084,"y":840},{"t":")","x":3140,"y":840},{"t":"a","x":527,"y":840,"w":1},{"t":"b","x":1820,"y":840,"w":1},{"t":"c","x":3112,"y":840,"w":1}]},"encoding":{"x":{"field":"x","type":"quantitative","scale":{"domain":[27.4,3667.4],"nice":false,"zero":false},"axis":null},"y":{"field":"y","type":"quantitative","scale":{"domain":[867.4,716.4],"nice":false,"zero":false},"axis":null},"text":{"field":"t"}},"layer":[
{"transform":[{"filter":"!datum.w"}],"mark":{"type":"text","font":"Liberation Serif","fontSize":72,"baseline":"alphabetic","fill":"black"}},
{"transform":[{"filter":"datum.w"}],"mark":{"type":"text","font":"Liberation Serif","fontSize":72,"fontWeight":"bold","baseline":"alphabetic","fill":"black"}}
]},
{"resolve":{"scale":{"fill":"independent","stroke":"independent"}},"hconcat":[
{"width":643.4,"height":684,"data":{"values":[]},"mark":{"type":"text"},"encoding":{}},
{"resolve":{"scale":{"fill":"independent","stroke":"independent"}},"hconcat":[
{"width":1027.4,"height":684,"view":{"fill":"#ffffb9","stroke":"black","strokeWidth":3},"encoding":{"x":{"field":"x","type":"quantitative","scale":{"domain":[20,1553],"nice":false,"zero":false},"axis":null},"y":{"field":"y","type":"quantitative","scale":{"domain":[1515,27],"nice":false,"zero":false},"axis":null}},"layer":[
{"data":{"name":"d"},"mark":{"type":"line","order":false,"clip":true,"interpolate":"catmull-rom","strokeOpacity":0},"encoding":{"fill":{"field":"c","type":"nominal","legend":null,"scale":{"domain":["d0","d1","d2","d3","d4","d5","d6","d7"],"range":["#fff3a8","#fdd69a","#fdbb7e","#e59464","#ae6039","#ae6039","#6f3b1b","#6f3b1b"]}}}},
{"data":{"name":"d"},"transform":[{"filter":"!datum.k"}],"mark":{"type":"line","order":false,"clip":true,"interpolate":"catmull-rom","stroke":"#3b3426","strokeWidth":1.4},"encoding":{"detail":{"field":"c"}}},
{"data":{"name":"ld"},"mark":{"type":"text","clip":true,"font":"Open Sans","fontSize":32,"strokeWidth":9},"encoding":{"text":{"field":"t"},"angle":{"field":"r","type":"quantitative","scale":null},"stroke":{"field":"c","type":"nominal","legend":null,"scale":{"domain":["d0","d1","d2","d3","d4","d5","d6","d7"],"range":["#fff3a8","#fdd69a","#fdbb7e","#e59464","#ae6039","#ae6039","#6f3b1b","#6f3b1b"]}}}},
{"data":{"name":"ld"},"mark":{"type":"text","clip":true,"font":"Open Sans","fontSize":32,"fill":"black"},"encoding":{"text":{"field":"t"},"angle":{"field":"r","type":"quantitative","scale":null}}}
]},
{"width":1027.4,"height":684,"view":{"fill":"#ffffb9","stroke":"black","strokeWidth":3},"encoding":{"x":{"field":"x","type":"quantitative","scale":{"domain":[16,1550],"nice":false,"zero":false},"axis":null},"y":{"field":"y","type":"quantitative","scale":{"domain":[1515,27],"nice":false,"zero":false},"axis":null}},"layer":[
{"data":{"name":"e"},"mark":{"type":"line","order":false,"clip":true,"interpolate":"catmull-rom","strokeOpacity":0},"encoding":{"fill":{"field":"c","type":"nominal","legend":null,"scale":{"domain":["e0","e1","e2","e3","e4","e5","e6","e7","e8"],"range":["#fff3a8","#fff3a8","#fdd69a","#fdbb7e","#e59464","#ae6039","#ae6039","#6f3b1b","#fdbb7e"]}}}},
{"data":{"name":"e"},"transform":[{"filter":"!datum.k"}],"mark":{"type":"line","order":false,"clip":true,"interpolate":"catmull-rom","stroke":"#3b3426","strokeWidth":1.4},"encoding":{"detail":{"field":"c"}}},
{"data":{"name":"le"},"mark":{"type":"text","clip":true,"font":"Open Sans","fontSize":32,"strokeWidth":9},"encoding":{"text":{"field":"t"},"angle":{"field":"r","type":"quantitative","scale":null},"stroke":{"field":"c","type":"nominal","legend":null,"scale":{"domain":["e0","e1","e2","e3","e4","e5","e6","e7","e8"],"range":["#fff3a8","#fff3a8","#fdd69a","#fdbb7e","#e59464","#ae6039","#ae6039","#6f3b1b","#fdbb7e"]}}}},
{"data":{"name":"le"},"mark":{"type":"text","clip":true,"font":"Open Sans","fontSize":32,"fill":"black"},"encoding":{"text":{"field":"t"},"angle":{"field":"r","type":"quantitative","scale":null}}}
]}
],"spacing":237.5},
{"width":700,"height":684,"encoding":{"x":{"field":"x","type":"quantitative","scale":{"domain":[69,2169],"nice":false,"zero":false},"axis":null},"y":{"field":"y","type":"quantitative","scale":{"domain":[1068,-984],"nice":false,"zero":false},"axis":null}},"layer":[
{"data":{"values":[{"x":211,"y":139},{"x":497,"y":113},{"x":435,"y":190},{"x":922,"y":603},{"x":795,"y":757},{"x":302,"y":350},{"x":236,"y":428},{"x":211,"y":139},{"x":497,"y":113}]},"mark":{"type":"line","order":false,"fill":"#00b0f0","stroke":"#0070c0","strokeWidth":8,"strokeJoin":"miter","strokeMiterLimit":10}},
{"data":{"values":[{"t":"45°","x":930,"y":1062}]},"mark":{"type":"text","font":"Liberation Serif","fontSize":90,"baseline":"alphabetic","fill":"black"},"encoding":{"text":{"field":"t"}}}
]}
],"spacing":0},
{"width":3640,"height":120,"data":{"values":[{"t":"(","x":1116,"y":1623},{"t":")","x":1184,"y":1623},{"t":"(","x":2329,"y":1623},{"t":")","x":2387,"y":1623},{"t":"d","x":1150,"y":1623,"w":1},{"t":"e","x":2358,"y":1623,"w":1}]},"encoding":{"x":{"field":"x","type":"quantitative","scale":{"domain":[27.4,3667.4],"nice":false,"zero":false},"axis":null},"y":{"field":"y","type":"quantitative","scale":{"domain":[1676.4,1556.4],"nice":false,"zero":false},"axis":null},"text":{"field":"t"}},"layer":[
{"transform":[{"filter":"!datum.w"}],"mark":{"type":"text","font":"Liberation Serif","fontSize":72,"baseline":"alphabetic","fill":"black"}},
{"transform":[{"filter":"datum.w"}],"mark":{"type":"text","font":"Liberation Serif","fontSize":72,"fontWeight":"bold","baseline":"alphabetic","fill":"black"}}
]}
],"spacing":0}
